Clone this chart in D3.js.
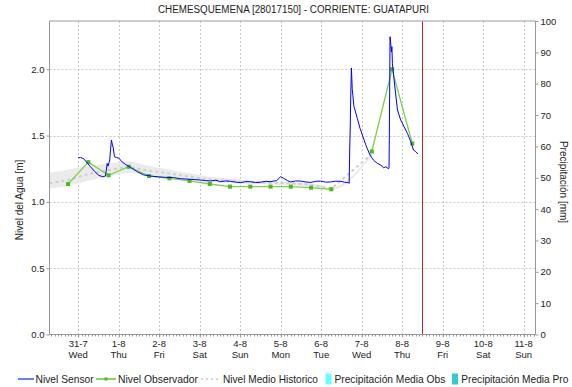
<!DOCTYPE html>
<html><head><meta charset="utf-8">
<script src="https://cdn.jsdelivr.net/npm/d3@7"></script>
<style>
html,body{margin:0;padding:0;background:#fff;}
svg text{font-family:"Liberation Sans",Arial,sans-serif;fill:#222;}
</style></head>
<body><svg id="c" width="572" height="387"></svg>
<script>
// ---- data ----
const titleText = "CHEMESQUEMENA [28017150] - CORRIENTE: GUATAPURI";
const leftTitle = "Nivel del Agua [m]";
const rightTitle = "Precipitación [mm]";
const dayLabels = ["31-7","1-8","2-8","3-8","4-8","5-8","6-8","7-8","8-8","9-8","10-8","11-8"];
const weekdayLabels = ["Wed","Thu","Fri","Sat","Sun","Mon","Tue","Wed","Thu","Fri","Sat","Sun"];
const levelTicks = [0, 0.5, 1.0, 1.5, 2.0];
const precipTicks = [0,10,20,30,40,50,60,70,80,90,100];
// hours since 2024-07-31 00:00
const sensorHours = [0,1.4,3.3,4.9,7.3,9.7,12.2,14.4,16.2,17.2,17.7,18.7,19.2,19.7,20.3,20.8,21.5,22.7,24.1,26.1,28.6,31,35,38.9,42.9,46.8,51.8,56.5,60.7,66.6,72.5,75.5,78.5,81.5,84.4,87.3,90.3,93.3,96.3,99.2,102.2,105.1,108.1,111.1,114.1,116,117.6,120,121.7,124.1,125.9,128.8,131.8,134.8,137.8,140.8,143.7,146.6,149.6,152.6,155.6,158,160,160.6,160.9,161.2,161.5,161.9,162.4,162.8,163.4,165.4,167,168.4,170.4,172.9,174.9,177.3,179.3,181,182.2,184,184.2,184.4,184.8,185.2,185.6,185.9,186.2,187,188.2,189.2,191.1,193.1,195.1,197.1,198.7,200,201.4];
const sensorLevel = [1.333,1.335,1.325,1.30,1.265,1.23,1.20,1.19,1.195,1.29,1.27,1.316,1.40,1.467,1.43,1.406,1.34,1.335,1.33,1.30,1.278,1.26,1.228,1.203,1.195,1.19,1.185,1.183,1.175,1.17,1.165,1.16,1.158,1.163,1.152,1.158,1.155,1.149,1.145,1.153,1.152,1.146,1.148,1.155,1.152,1.158,1.16,1.19,1.178,1.16,1.15,1.158,1.157,1.150,1.147,1.155,1.157,1.149,1.15,1.156,1.155,1.148,1.145,1.14,1.40,1.55,1.79,2.01,1.85,1.80,1.72,1.63,1.555,1.505,1.43,1.354,1.316,1.29,1.278,1.256,1.265,1.25,1.26,1.505,2.246,2.196,2.13,2.17,2.045,1.944,1.806,1.693,1.618,1.567,1.517,1.454,1.391,1.379,1.361];
const obsHours = [-6,6,18,30,42,54,66,78,90,102,114,126,138,150,162,174,186,198];
const obsLevel = [1.135,1.30,1.20,1.265,1.195,1.178,1.158,1.135,1.115,1.115,1.115,1.115,1.107,1.095,null,1.38,2.00,1.44];
const histHours = [-17,-6,6,18,30,42,54,66,78,90,102,114,126,138,150,174];
const histMean  = [1.14,1.165,1.21,1.24,1.265,1.235,1.215,1.19,1.17,1.16,1.15,1.145,1.14,1.13,1.10,1.36];
const histLow   = [1.10,1.12,1.16,1.19,1.215,1.20,1.185,1.165,1.15,1.14,1.135,1.13,1.125,1.115,1.09,1.35];
const histHigh  = [1.22,1.245,1.27,1.29,1.305,1.27,1.245,1.215,1.19,1.175,1.16,1.155,1.15,1.14,1.11,1.37];
const nowTime = "2024-08-08T11:35:00";
const legendItems = ["Nivel Sensor","Nivel Observador","Nivel Medio Historico","Precipitación Media Obs","Precipitación Media Pro"];

// ---- chart ----
const svg = d3.select("#c");
const L = 49.5, R = 535.5, T = 21, B = 334.5;
const t0 = new Date(2024,6,31,0,0);
const hToDate = h => new Date(t0.getTime() + h*3600e3);
const x = d3.scaleTime().domain([new Date(2024,6,30,7,0), new Date(2024,7,11,7,0)]).range([L,R]);
const y = d3.scaleLinear().domain([0,2.364]).range([B,T]);
const y2 = d3.scaleLinear().domain([0,100]).range([B,T]);
const dayDates = dayLabels.map((d,i)=> new Date(2024,6,31+i));

// grid
const grid = svg.append("g").attr("stroke","#c8c8c8").attr("stroke-dasharray","2,2").attr("stroke-width",1);
dayDates.forEach(d=>grid.append("line").attr("x1",Math.round(x(d))+0.5).attr("x2",Math.round(x(d))+0.5).attr("y1",T).attr("y2",B));
levelTicks.filter(v=>v>0).forEach(v=>grid.append("line").attr("x1",L).attr("x2",R).attr("y1",Math.round(y(v))+0.5).attr("y2",Math.round(y(v))+0.5));

// historic band and mean
const hist = histHours.map((h,i)=>({t:hToDate(h),m:histMean[i],lo:histLow[i],hi:histHigh[i]}));
svg.append("path").datum(hist).attr("fill","#e8e8e8").attr("opacity",0.85)
  .attr("d",d3.area().x(d=>x(d.t)).y0(d=>y(d.lo)).y1(d=>y(d.hi)).curve(d3.curveMonotoneX));
svg.append("path").datum(hist).attr("fill","none").attr("stroke","#cfcfcf").attr("stroke-width",2).attr("stroke-dasharray","3,3")
  .attr("d",d3.line().x(d=>x(d.t)).y(d=>y(d.m)));

// observer
const obs = obsHours.map((h,i)=>({t:hToDate(h),v:obsLevel[i]}));
svg.append("path").datum(obs).attr("fill","none").attr("stroke","#7ed24a").attr("stroke-width",1.3)
  .attr("d",d3.line().defined(d=>d.v!==null).x(d=>x(d.t)).y(d=>y(d.v)));
svg.append("g").selectAll("rect").data(obs.filter(d=>d.v!==null)).join("rect")
  .attr("x",d=>x(d.t)-2).attr("y",d=>y(d.v)-2).attr("width",4).attr("height",4).attr("fill","#4cb81e");

// sensor
const sen = sensorHours.map((h,i)=>({t:hToDate(h),v:sensorLevel[i]}));
svg.append("path").datum(sen).attr("fill","none").attr("stroke","#0000ff").attr("stroke-width",1)
  .attr("d",d3.line().x(d=>x(d.t)).y(d=>y(d.v)));

// now line
const nx = Math.round(x(new Date(nowTime)))+0.5;
svg.append("line").attr("x1",nx).attr("x2",nx).attr("y1",T).attr("y2",B).attr("stroke","#cc2222").attr("stroke-width",1);

// frame
svg.append("line").attr("x1",L).attr("x2",R).attr("y1",T).attr("y2",T).attr("stroke","#999");
svg.append("line").attr("x1",L).attr("x2",L).attr("y1",T).attr("y2",B).attr("stroke","#999");
svg.append("line").attr("x1",R).attr("x2",R).attr("y1",T).attr("y2",B).attr("stroke","#999");
svg.append("line").attr("x1",L).attr("x2",R).attr("y1",B).attr("y2",B).attr("stroke","#999");

// left axis
const ga = svg.append("g").attr("transform",`translate(${L},0)`)
  .call(d3.axisLeft(y).tickValues(levelTicks).tickFormat(d3.format(".1f")).tickSize(3).tickPadding(2));
ga.select(".domain").remove();
ga.selectAll("line").attr("stroke","#999");
ga.selectAll("text").attr("font-size","9.5px").attr("fill","#222").attr("font-family","Liberation Sans, Arial");

// right axis
const gr = svg.append("g").attr("transform",`translate(${R},0)`)
  .call(d3.axisRight(y2).tickValues(precipTicks).tickSize(3).tickPadding(2));
gr.select(".domain").remove();
gr.selectAll("line").attr("stroke","#999");
gr.selectAll("text").attr("font-size","9.5px").attr("fill","#222").attr("font-family","Liberation Sans, Arial");

// bottom axis minor ticks
const minor = d3.timeHour.every(2).range(x.domain()[0], x.domain()[1]);
svg.append("g").selectAll("line").data(minor).join("line")
  .attr("x1",d=>Math.round(x(d))+0.5).attr("x2",d=>Math.round(x(d))+0.5).attr("y1",B).attr("y2",B+2).attr("stroke","#999");
const gb = svg.append("g").attr("transform",`translate(0,${B})`)
  .call(d3.axisBottom(x).tickValues(dayDates).tickSize(3).tickFormat(""));
gb.select(".domain").remove();
gb.selectAll("line").attr("stroke","#999");
const lab = svg.append("g").attr("font-size","9.5px").attr("text-anchor","middle");
dayDates.forEach((d,i)=>{
  lab.append("text").attr("x",x(d)).attr("y",347).text(dayLabels[i]);
  lab.append("text").attr("x",x(d)).attr("y",358).text(weekdayLabels[i]);
});

// titles
svg.append("text").attr("x",293.5).attr("y",13).attr("text-anchor","middle").attr("font-size","10px")
  .attr("textLength",271).attr("lengthAdjust","spacingAndGlyphs").text(titleText);
svg.append("text").attr("transform","translate(23,200) rotate(-90)").attr("text-anchor","middle").attr("font-size","10px").text(leftTitle);
svg.append("text").attr("transform","translate(560,182) rotate(90)").attr("text-anchor","middle").attr("font-size","10px").text(rightTitle);

// legend
const lg = svg.append("g").attr("font-size","10.5px");
const ly = 379;
const legX = [35.6,118,223,334.4,461.3];
const legW = [58,80,95,111,107];
lg.append("line").attr("x1",18).attr("x2",34).attr("y1",ly).attr("y2",ly).attr("stroke","#3355ff").attr("stroke-width",1.5);
lg.append("line").attr("x1",96).attr("x2",116).attr("y1",ly).attr("y2",ly).attr("stroke","#4cb81e").attr("stroke-width",1.3);
lg.append("rect").attr("x",104.5).attr("y",ly-1.5).attr("width",3).attr("height",3).attr("fill","#4cb81e");
lg.append("line").attr("x1",201).attr("x2",221).attr("y1",ly).attr("y2",ly).attr("stroke","#cccccc").attr("stroke-width",1.5).attr("stroke-dasharray","2,3");
lg.append("rect").attr("x",325.5).attr("y",ly-5.5).attr("width",6).attr("height",11).attr("fill","#66ffff");
lg.append("rect").attr("x",452).attr("y",ly-5.5).attr("width",6).attr("height",11).attr("fill","#33cccc");
legendItems.forEach((t,i)=>{
  lg.append("text").attr("x",legX[i]).attr("y",ly+4).attr("textLength",legW[i]).attr("lengthAdjust","spacingAndGlyphs").text(t);
});
</script></body></html>
